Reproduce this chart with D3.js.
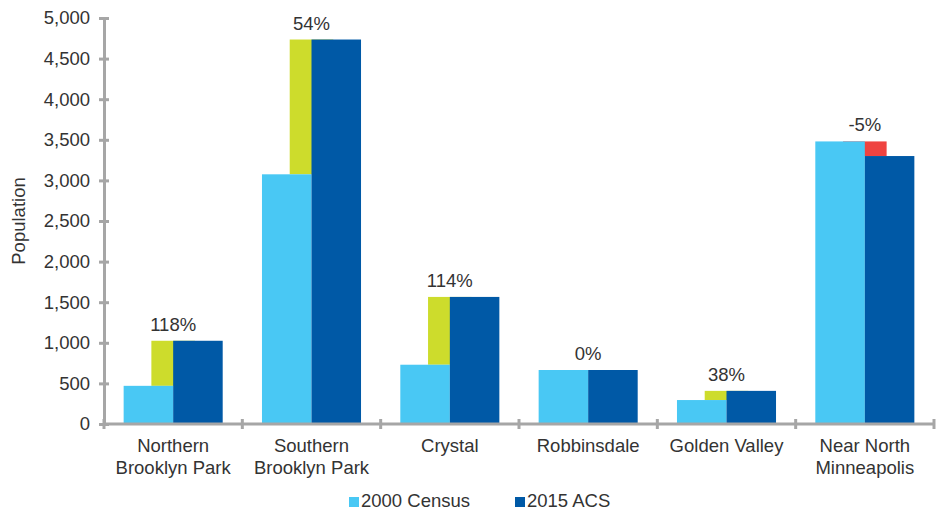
<!DOCTYPE html>
<html>
<head>
<meta charset="utf-8">
<script src="https://cdn.jsdelivr.net/npm/d3@7"></script>
<style>
  body { margin: 0; background: #fff; }
  text { font-family: "Liberation Sans", Arial, sans-serif; fill: #333; }
</style>
</head>
<body>
<div id="graph"></div>
<script>
// values
var categories = [["Northern", "Brooklyn Park"], ["Southern", "Brooklyn Park"], ["Crystal"],
                  ["Robbinsdale"], ["Golden Valley"], ["Near North", "Minneapolis"]];
var census2000 = [470, 3075, 730, 665, 295, 3480];
var acs2015 = [1025, 4735, 1565, 665, 408, 3300];
var pctLabels = ["118%", "54%", "114%", "0%", "38%", "-5%"];
var seriesNames = ["2000 Census", "2015 ACS"];
var yTicks = [0, 500, 1000, 1500, 2000, 2500, 3000, 3500, 4000, 4500, 5000];

var w = 940, h = 514;
var colLight = "#49c8f4", colDark = "#0059a6", colUp = "#cddc2c", colDown = "#ef4340", colAxis = "#a6a6a6";
var fs = "18.5px";

var svg = d3.select("div#graph").append("svg")
  .attr("width", w)
  .attr("height", h);

var plotLeft = 104, plotRight = 934, plotTop = 18, plotBottom = 424;

var x = d3.scaleBand().domain(d3.range(categories.length)).range([plotLeft, plotRight]);
var bw = x.bandwidth();
// two bars side by side inside each band
var xs = d3.scaleBand().domain([0, 1]).range([bw * 0.142, bw * 0.858]);
var y = d3.scaleLinear().domain([0, 5000]).range([plotBottom, plotTop]);

var data = categories.map(function(c, i) {
  return {i: i, name: c, a: census2000[i], b: acs2015[i], pct: pctLabels[i]};
});

// change bar (drawn behind the two bars, centred on the group)
var cw = xs.bandwidth() * 0.88;
svg.selectAll("rect.change")
  .data(data.filter(function(d) { return d.a != d.b; })).enter().append("rect")
  .attr("class", "change")
  .attr("x", function(d) { return x(d.i) + bw / 2 - cw / 2; })
  .attr("width", cw)
  .attr("y", function(d) { return y(Math.max(d.a, d.b)); })
  .attr("height", function(d) { return Math.abs(y(d.a) - y(d.b)); })
  .attr("fill", function(d) { return d.b > d.a ? colUp : colDown; });

svg.selectAll("rect.census")
  .data(data).enter().append("rect")
  .attr("class", "census")
  .attr("x", function(d) { return x(d.i) + xs(0); })
  .attr("width", xs.bandwidth())
  .attr("y", function(d) { return y(d.a); })
  .attr("height", function(d) { return y(0) - y(d.a); })
  .attr("fill", colLight);

svg.selectAll("rect.acs")
  .data(data).enter().append("rect")
  .attr("class", "acs")
  .attr("x", function(d) { return x(d.i) + xs(1); })
  .attr("width", xs.bandwidth())
  .attr("y", function(d) { return y(d.b); })
  .attr("height", function(d) { return y(0) - y(d.b); })
  .attr("fill", colDark);

// percentage labels
svg.selectAll("text.pct")
  .data(data).enter().append("text")
  .attr("class", "pct")
  .attr("x", function(d) { return x(d.i) + bw / 2; })
  .attr("y", function(d) { return y(Math.max(d.a, d.b)) - 10; })
  .attr("text-anchor", "middle")
  .style("font-size", fs)
  .text(function(d) { return d.pct; });

// y axis
var yAxis = svg.append("g")
  .attr("transform", "translate(" + plotLeft + ",0)")
  .call(d3.axisLeft(y).tickValues(yTicks).tickSize(5).tickPadding(9).tickFormat(d3.format(",")));
yAxis.select(".domain").attr("stroke", colAxis).attr("stroke-width", 3);
yAxis.selectAll(".tick line").attr("x1", 5).attr("stroke", colAxis).attr("stroke-width", 3);
yAxis.selectAll(".tick text").style("font-size", fs).attr("fill", "#333")
  .style("font-family", "'Liberation Sans', Arial, sans-serif");

// x axis line and separators
svg.append("line")
  .attr("x1", plotLeft).attr("x2", plotRight)
  .attr("y1", plotBottom).attr("y2", plotBottom)
  .attr("stroke", colAxis).attr("stroke-width", 3);
svg.selectAll("line.sep")
  .data(d3.range(categories.length + 1)).enter().append("line")
  .attr("class", "sep")
  .attr("x1", function(i) { return plotLeft + i * bw; })
  .attr("x2", function(i) { return plotLeft + i * bw; })
  .attr("y1", plotBottom - 5).attr("y2", plotBottom + 5)
  .attr("stroke", colAxis).attr("stroke-width", 3);

// category labels
var cl = svg.selectAll("text.cat")
  .data(data).enter().append("text")
  .attr("class", "cat")
  .attr("text-anchor", "middle")
  .style("font-size", fs);
cl.each(function(d) {
  var t = d3.select(this);
  d.name.forEach(function(line, k) {
    t.append("tspan")
      .attr("x", x(d.i) + bw / 2)
      .attr("y", 452 + k * 21.5)
      .text(line);
  });
});

// y axis title
svg.append("text")
  .attr("transform", "translate(25," + ((plotTop + plotBottom) / 2) + ") rotate(-90)")
  .attr("text-anchor", "middle")
  .style("font-size", fs)
  .text("Population");

// legend
var legendX = [349, 515];
var legendCol = [colLight, colDark];
var lg = svg.selectAll("g.legend")
  .data(seriesNames).enter().append("g")
  .attr("class", "legend")
  .attr("transform", function(d, i) { return "translate(" + legendX[i] + ",497)"; });
lg.append("rect")
  .attr("width", 10).attr("height", 10)
  .attr("fill", function(d, i) { return legendCol[i]; });
lg.append("text")
  .attr("x", 12).attr("y", 10)
  .style("font-size", fs)
  .text(function(d) { return d; });
</script>
</body>
</html>
